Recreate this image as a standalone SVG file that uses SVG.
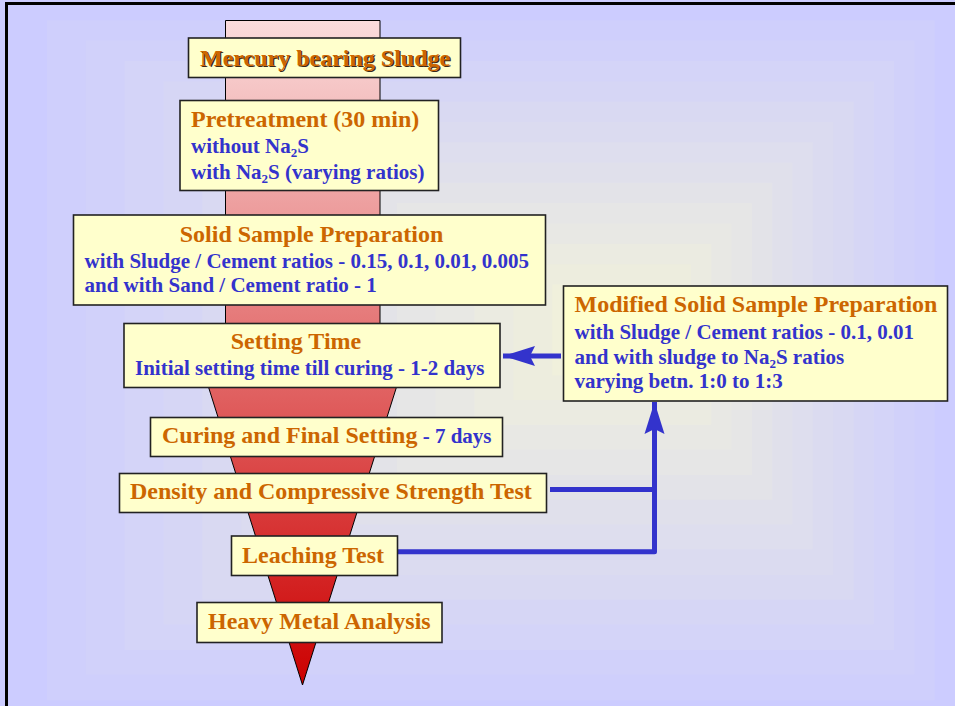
<svg xmlns="http://www.w3.org/2000/svg" width="955" height="706" viewBox="0 0 955 706">
<style>
.box{fill:#ffffcc;stroke:#222;stroke-width:1.6}
.t{font-family:"Liberation Serif","Times New Roman",serif;font-weight:bold;font-size:24px;fill:#cc6600}
.b{font-family:"Liberation Serif","Times New Roman",serif;font-weight:bold;font-size:21px;fill:#3333cc}
.sub{font-size:13px}
.conn{fill:none;stroke:#3333cc;stroke-width:5;stroke-linejoin:round}
</style>
<defs>
<linearGradient id="fun" gradientUnits="userSpaceOnUse" x1="0" y1="20" x2="0" y2="685">
<stop offset="0" stop-color="#fadcdc"/>
<stop offset="1" stop-color="#cc0000"/>
</linearGradient>
<marker id="ah" markerUnits="userSpaceOnUse" markerWidth="34" markerHeight="22" refX="32" refY="11" orient="auto">
<path d="M0,1 L32,11 L0,21 L5,11 Z" fill="#3333cc"/>
</marker>
</defs>
<g id="background">
<rect x="0" y="0" width="955" height="706" fill="#ccccff"/>
<rect x="46.9" y="20.3" width="887.8" height="680" fill="#cfcffc"/>
<rect x="85.8" y="40.6" width="828.6" height="634" fill="#d1d1fa"/>
<rect x="124.6" y="60.9" width="769.4" height="589" fill="#d4d4f8"/>
<rect x="163.5" y="81.3" width="710.3" height="543" fill="#d6d6f5"/>
<rect x="202.4" y="101.6" width="651.1" height="498" fill="#d9d9f2"/>
<rect x="241.3" y="121.9" width="591.9" height="453" fill="#dbdbf0"/>
<rect x="280.1" y="142.2" width="532.7" height="407" fill="#dedeee"/>
<rect x="319" y="162.5" width="473.5" height="362" fill="#e0e0eb"/>
<rect x="357.9" y="182.8" width="414.3" height="317" fill="#e3e3e8"/>
<rect x="396.8" y="203.1" width="355.1" height="272" fill="#e6e6e6"/>
<rect x="435.6" y="223.4" width="295.9" height="226" fill="#e8e8e4"/>
<rect x="474.5" y="243.8" width="236.8" height="181" fill="#ebebe1"/>
<rect x="513.4" y="264.1" width="177.6" height="136" fill="#ededde"/>
<rect x="552.3" y="284.4" width="118.4" height="91" fill="#f0f0dc"/>
<rect x="591.1" y="304.7" width="59.2" height="45" fill="#f2f2da"/>
<rect x="6.5" y="3.5" width="970" height="720" fill="none" stroke="#000" stroke-width="3"/>
</g>
<g id="funnel">
<path d="M225.5,20.5 H380 V330 H414.5 L302.5,685 L190.5,330 H225.5 Z" fill="url(#fun)" stroke="#000" stroke-width="1"/>
</g>
<g id="connectors">
<path class="conn" d="M561,356 H503" marker-end="url(#ah)"/>
<path class="conn" d="M550,489.5 H654.5"/>
<path class="conn" d="M397,551.7 H654.5 V402" marker-end="url(#ah)"/>
</g>
<g id="n-mercury">
<rect class="box" x="188.5" y="38" width="272" height="39.5"/>
<text class="t" x="201.2" y="66.7" style="fill:#3a2a1a">Mercury bearing Sludge</text>
<text class="t" x="200" y="65.5">Mercury bearing Sludge</text>
</g>
<g id="n-pretreatment">
<rect class="box" x="180" y="100.5" width="258.5" height="90"/>
<text class="t" x="191" y="126.5">Pretreatment (30 min)</text>
<text class="b" x="191" y="152.5">without Na<tspan class="sub" dy="4">2</tspan><tspan dy="-4">S</tspan></text>
<text class="b" x="191" y="178.5">with Na<tspan class="sub" dy="4">2</tspan><tspan dy="-4">S (varying ratios)</tspan></text>
</g>
<g id="n-solid">
<rect class="box" x="73.5" y="215" width="472" height="90"/>
<text class="t" x="311.5" y="242" text-anchor="middle">Solid Sample Preparation</text>
<text class="b" x="84.5" y="267.5">with Sludge / Cement ratios - 0.15, 0.1, 0.01, 0.005</text>
<text class="b" x="84.5" y="291.5">and with Sand / Cement ratio - 1</text>
</g>
<g id="n-setting">
<rect class="box" x="124" y="323.5" width="376" height="64"/>
<text class="t" x="296" y="349" text-anchor="middle">Setting Time</text>
<text class="b" x="135" y="375">Initial setting time till curing - 1-2 days</text>
</g>
<g id="n-curing">
<rect class="box" x="150.5" y="417.5" width="352" height="39"/>
<text class="t" x="162" y="443">Curing and Final Setting<tspan class="b"> - 7 days</tspan></text>
</g>
<g id="n-density">
<rect class="box" x="119.5" y="473.5" width="427" height="39"/>
<text class="t" x="130" y="499">Density and Compressive Strength Test</text>
</g>
<g id="n-leaching">
<rect class="box" x="231.5" y="536" width="166" height="39.5"/>
<text class="t" x="242" y="562.5">Leaching Test</text>
</g>
<g id="n-heavy">
<rect class="box" x="197" y="602.5" width="245" height="40"/>
<text class="t" x="208" y="629">Heavy Metal Analysis</text>
</g>
<g id="n-modified">
<rect class="box" x="563.5" y="286" width="384" height="115"/>
<text class="t" x="574.5" y="312">Modified Solid Sample Preparation</text>
<text class="b" x="574.5" y="339">with Sludge / Cement ratios - 0.1, 0.01</text>
<text class="b" x="574.5" y="363.5">and with sludge to Na<tspan class="sub" dy="4">2</tspan><tspan dy="-4">S ratios</tspan></text>
<text class="b" x="574.5" y="388">varying betn. 1:0 to 1:3</text>
</g>
</svg>
